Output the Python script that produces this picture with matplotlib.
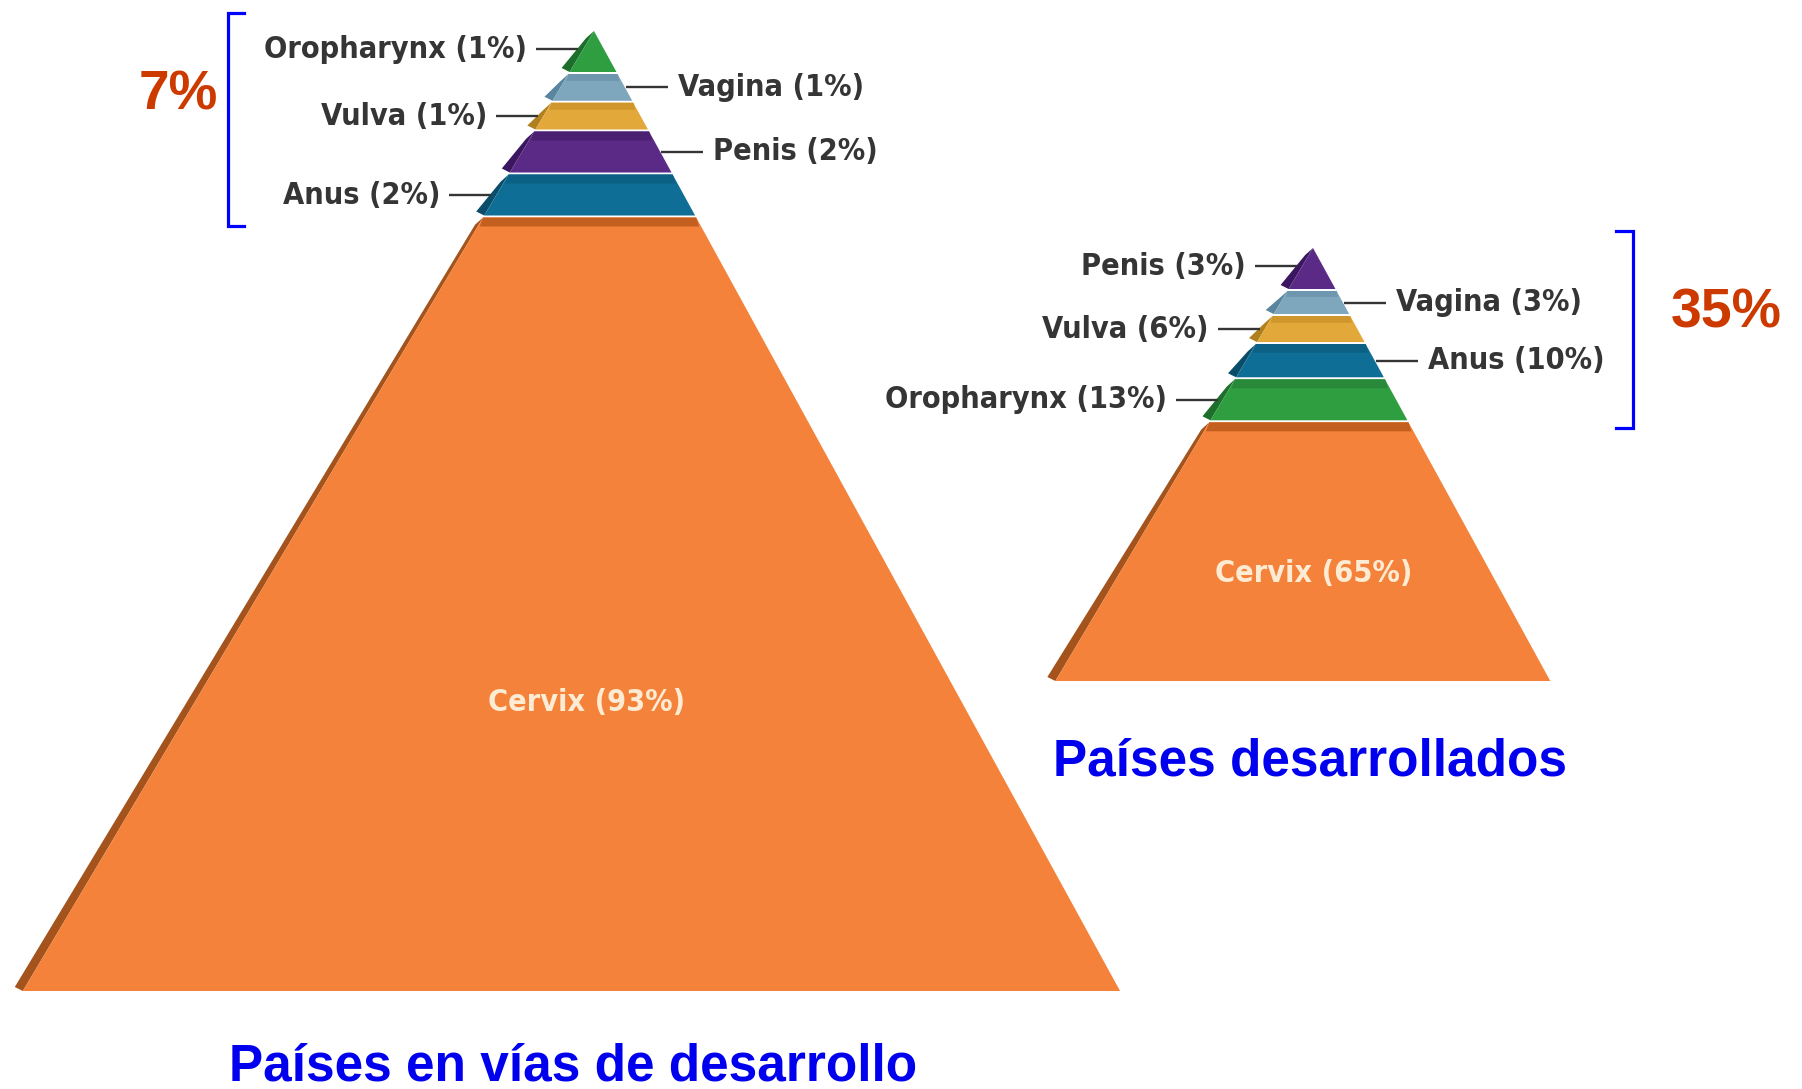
import matplotlib
matplotlib.use("Agg")
import matplotlib.pyplot as plt
from matplotlib.patches import Polygon
from matplotlib import font_manager

# ---------------- data ----------------
sites_developing = ["Oropharynx", "Vagina", "Vulva", "Penis", "Anus", "Cervix"]
pct_developing = [1, 1, 1, 2, 2, 93]
sites_developed = ["Penis", "Vagina", "Vulva", "Anus", "Oropharynx", "Cervix"]
pct_developed = [3, 3, 6, 10, 13, 65]
total_non_cervix_developing = 7
total_non_cervix_developed = 35
title_developing = "Países en vías de desarrollo"
title_developed = "Países desarrollados"

# ---------------- styles ----------------
# face, side (bevel), top-face colours per site
site_colors = {
    "Oropharynx": ("#2F9E41", "#1D6E2B", "#28893A"),
    "Vagina":     ("#7EA6BD", "#5A859E", "#6E97AF"),
    "Vulva":      ("#E2A93A", "#B07F1E", "#CF962C"),
    "Penis":      ("#5B2A86", "#3A1760", "#4B1F72"),
    "Anus":       ("#0F6E96", "#0A4D6B", "#0C6084"),
    "Cervix":     ("#F5823A", "#A3531B", "#C4601F"),
}
label_color = "#353535"
cervix_text_color = "#FDEBD3"
pct_color = "#CC3A00"
title_color = "#0000EE"
bracket_color = "#0000FF"

condensed = [f for f in font_manager.fontManager.ttflist
             if f.name == "DejaVu Sans" and f.stretch == "condensed"]
label_stretch = "condensed" if condensed else "normal"
label_font = "DejaVu Sans"
title_font = "Liberation Sans"

W, H = 1802, 1089
fig = plt.figure(figsize=(W / 100, H / 100), dpi=100)
ax = fig.add_axes([0, 0, 1, 1])
ax.set_xlim(0, W)
ax.set_ylim(H, 0)
ax.axis("off")

SL, SR = 0.595, 0.548   # edge slopes (dx per dy) of the pyramid sides
GAP = 2.0
BEVEL = 8.0


def small_height(p, pmax):
    return 22 + 19 * (p / pmax) ** 2


def draw_pyramid(apex, base_y, sites, pcts, fs_label, label_len=42):
    ax_x, ax_y = apex
    L = lambda y: ax_x - SL * (y - ax_y)
    R = lambda y: ax_x + SR * (y - ax_y)
    small = pcts[:-1]
    pmax = max(small)
    heights = []
    for i, p in enumerate(small):
        heights.append(41.0 if i == 0 else small_height(p, pmax))
    y = ax_y
    last_small_bottom = None
    for i, (site, p) in enumerate(zip(sites, pcts)):
        face, side, top = site_colors[site]
        y0 = y
        y1 = base_y if i == len(sites) - 1 else y0 + heights[i]
        h = y1 - y0
        t = min(0.26 * h, 9.0)
        # bevel on the left
        ax.add_patch(Polygon([(L(y0) - BEVEL, y0 + BEVEL * 0.9), (L(y0), y0), (L(y1), y1),
                              (L(y1) - BEVEL, y1 - 4)], closed=True, fc=side, ec="none", zorder=2))
        # front face
        ax.add_patch(Polygon([(L(y0), y0), (R(y0), y0), (R(y1), y1), (L(y1), y1)],
                             closed=True, fc=face, ec="none", zorder=3))
        # top face strip
        if i > 0:
            ax.add_patch(Polygon([(L(y0), y0), (R(y0), y0), (R(y0 + t) - 2, y0 + t), (L(y0 + t) + 2, y0 + t)],
                                 closed=True, fc=top, ec="none", zorder=4))
        label = f"{site} ({p}%)"
        if i == len(sites) - 1:
            # centroid of trapezoid
            a = R(y0) - L(y0)
            b = R(y1) - L(y1)
            yc = y0 + h * (a + 2 * b) / (3 * (a + b)) + 0.015 * h
            xc = (L(yc) + R(yc)) / 2 + 8
            ax.text(xc, yc, label, ha="center", va="center", fontsize=fs_label,
                    family=label_font, fontstretch=label_stretch, fontweight="bold",
                    color=cervix_text_color, zorder=6)
        else:
            last_small_bottom = y1
            yc = y0 + (0.45 if i == 0 else 0.5) * h
            if i % 2 == 0:
                xe = L(yc) - BEVEL + 3
                ax.plot([xe - label_len, xe], [yc, yc], color=label_color, lw=1.7, zorder=5,
                        solid_capstyle="butt")
                ax.text(xe - label_len - 9, yc, label, ha="right", va="center", fontsize=fs_label,
                        family=label_font, fontstretch=label_stretch, fontweight="bold",
                        color=label_color, zorder=6)
            else:
                xs = R(yc) + 1
                ax.plot([xs, xs + label_len], [yc, yc], color=label_color, lw=1.7, zorder=5,
                        solid_capstyle="butt")
                ax.text(xs + label_len + 10, yc, label, ha="left", va="center", fontsize=fs_label,
                        family=label_font, fontstretch=label_stretch, fontweight="bold",
                        color=label_color, zorder=6)
        y = y1 + GAP
    return ax_y, last_small_bottom


def bracket(x, y0, y1, tick, side):
    xs = [x + tick, x, x, x + tick] if side == "left" else [x - tick, x, x, x - tick]
    ax.plot(xs, [y0, y0, y1, y1], color=bracket_color, lw=2.3, zorder=5, solid_joinstyle="miter")


fs = 22 if label_stretch == "condensed" else 19.5

# developing countries pyramid
top1, bot1 = draw_pyramid((594, 31), 991, sites_developing, pct_developing, fs_label=fs)
bracket(228, top1 - 18, bot1 + 10, 16, "left")
ax.text(178, 95, f"{total_non_cervix_developing}%", ha="center", va="center", fontsize=39.5,
        family=title_font, fontweight="bold", color=pct_color)
ax.text(573, 1067, title_developing, ha="center", va="center", fontsize=37,
        family=title_font, fontweight="bold", color=title_color)

# developed countries pyramid
top2, bot2 = draw_pyramid((1313, 248), 681, sites_developed, pct_developed, fs_label=fs)
bracket(1633, top2 - 17, bot2 + 8, 17, "right")
ax.text(1726, 313, f"{total_non_cervix_developed}%", ha="center", va="center", fontsize=40,
        family=title_font, fontweight="bold", color=pct_color)
ax.text(1310, 762, title_developed, ha="center", va="center", fontsize=37,
        family=title_font, fontweight="bold", color=title_color)

fig.savefig("out.png", dpi=100, facecolor="white")
